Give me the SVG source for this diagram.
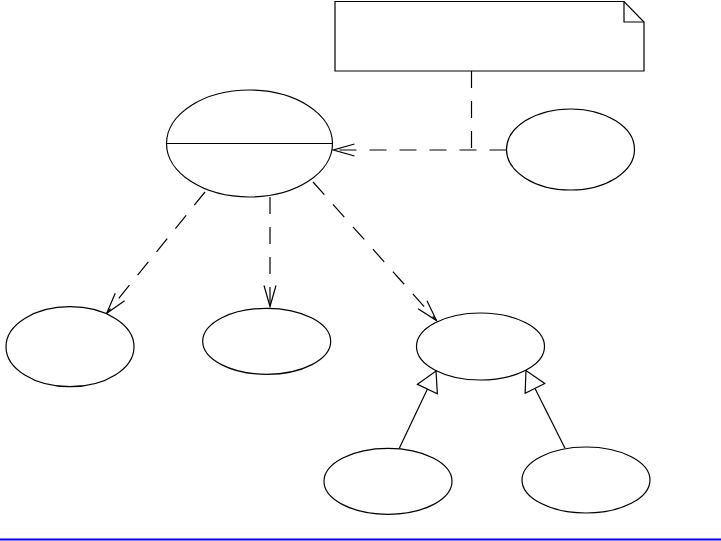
<svg xmlns="http://www.w3.org/2000/svg" width="721" height="541" viewBox="0 0 721 541">
<style>
.node{fill:#fff;stroke:#000;stroke-width:1.2}
.dep{fill:none;stroke:#000;stroke-width:1.2;stroke-dasharray:17 13;marker-end:url(#open)}
.dash{fill:none;stroke:#000;stroke-width:1.2;stroke-dasharray:17 13}
.gen{fill:none;stroke:#000;stroke-width:1.2;marker-end:url(#tri)}
</style>
<defs>
<marker id="open" viewBox="-22 -8 24 16" markerWidth="24" markerHeight="16" refX="0" refY="0" markerUnits="userSpaceOnUse" orient="auto">
<path d="M-21,-6 L0,0 L-21,6" fill="none" stroke="#000" stroke-width="1.2" stroke-dasharray="none"/>
</marker>
<marker id="tri" viewBox="-22 -12 24 24" markerWidth="24" markerHeight="24" refX="0" refY="0" markerUnits="userSpaceOnUse" orient="auto">
<path d="M-20,-11 L0,0 L-20,11 Z" fill="#fff" stroke="#000" stroke-width="1.2"/>
</marker>
</defs>
<rect x="0" y="0" width="721" height="541" fill="#fff"/>
<g id="connectors">
<line class="dash" x1="471.5" y1="71" x2="471.5" y2="150"/>
<line class="dep" x1="506.5" y1="150" x2="333.5" y2="150"/>
<line class="dep" x1="205" y1="192" x2="106.7" y2="313.3"/>
<line class="dep" x1="270" y1="197" x2="270" y2="306.5"/>
<line class="dep" x1="313" y1="182" x2="436.5" y2="320.5"/>
<line class="gen" x1="399.3" y1="448.3" x2="436" y2="371"/>
<line class="gen" x1="565" y1="448.3" x2="526" y2="370.5"/>
</g>
<g id="note">
<path class="node" d="M335,1.5 L624,1.5 L644,22 L644,71 L335,71 Z"/>
<path d="M624,1.5 L624,22 L644,22" fill="none" stroke="#000" stroke-width="1.2"/>
</g>
<g id="main">
<ellipse class="node" cx="249.5" cy="143.5" rx="83" ry="53.5"/>
<line x1="166.5" y1="143.5" x2="332.5" y2="143.5" stroke="#000" stroke-width="1.2"/>
</g>
<g id="rightNode"><ellipse class="node" cx="570.5" cy="149.5" rx="64" ry="40.5"/></g>
<g id="leftNode"><ellipse class="node" cx="70" cy="346.7" rx="64" ry="40"/></g>
<g id="midNode"><ellipse class="node" cx="266.7" cy="341.3" rx="64" ry="33"/></g>
<g id="parentNode"><ellipse class="node" cx="480.5" cy="346.5" rx="64" ry="33.5"/></g>
<g id="childLeft"><ellipse class="node" cx="388" cy="481.3" rx="64" ry="33"/></g>
<g id="childRight"><ellipse class="node" cx="586" cy="480" rx="64" ry="33"/></g>
<line x1="0" y1="539.5" x2="721" y2="539.5" stroke="#0000ff" stroke-width="2"/>
</svg>
